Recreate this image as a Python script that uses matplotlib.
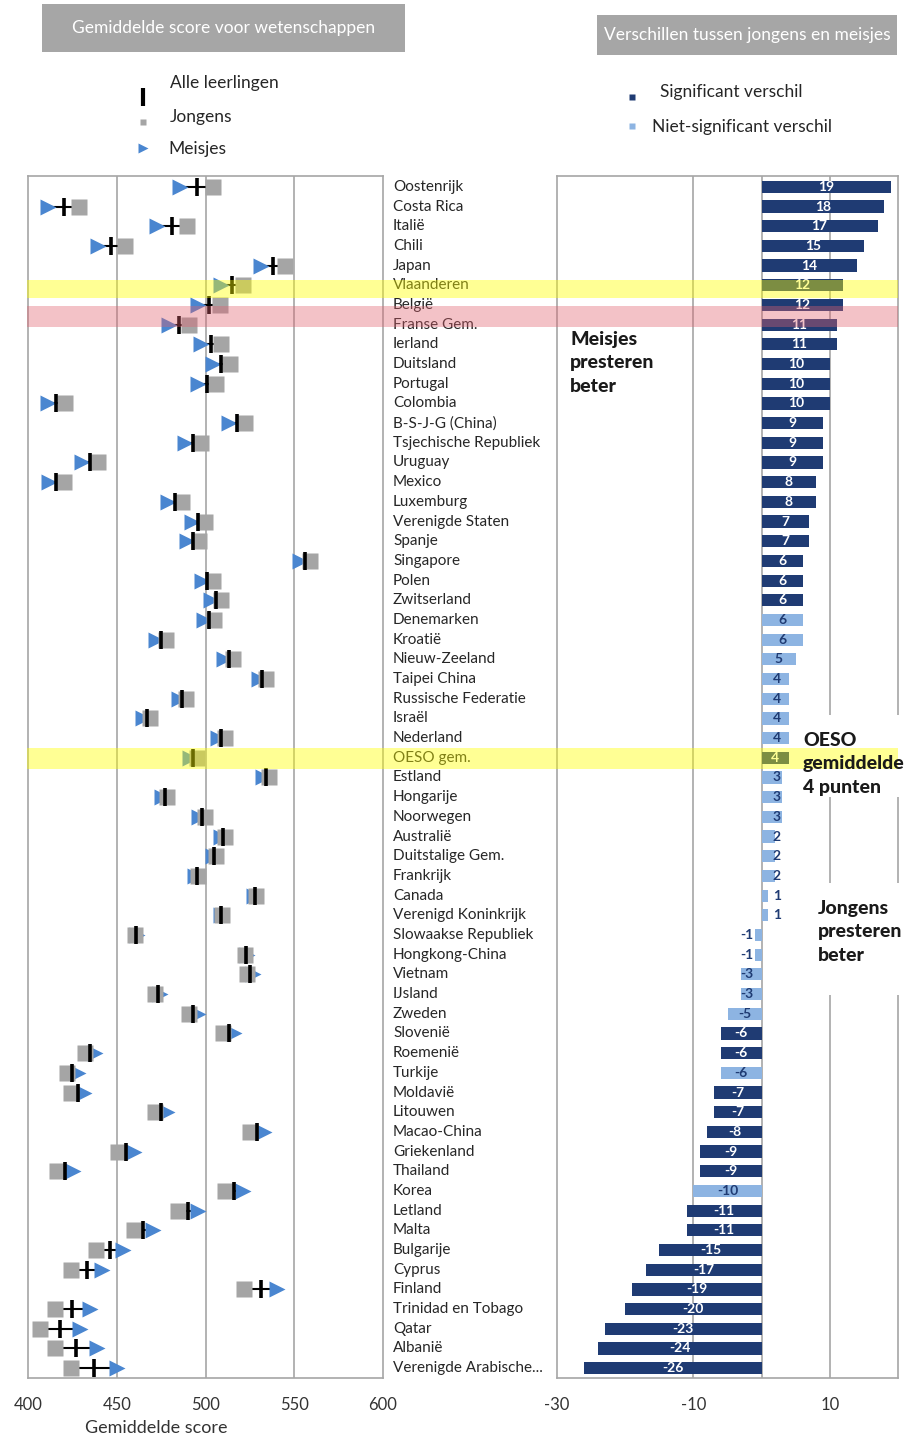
import matplotlib.pyplot as plt
import numpy as np
from matplotlib.patches import Rectangle
from matplotlib.lines import Line2D
from matplotlib.transforms import blended_transform_factory

plt.rcParams['font.family'] = ['Lato', 'DejaVu Sans']
plt.rcParams['axes.unicode_minus'] = False

countries = ['Oostenrijk', 'Costa Rica', 'Italië', 'Chili', 'Japan', 'Vlaanderen', 'België',
             'Franse Gem.', 'Ierland', 'Duitsland', 'Portugal', 'Colombia', 'B-S-J-G (China)',
             'Tsjechische Republiek', 'Uruguay', 'Mexico', 'Luxemburg', 'Verenigde Staten',
             'Spanje', 'Singapore', 'Polen', 'Zwitserland', 'Denemarken', 'Kroatië',
             'Nieuw-Zeeland', 'Taipei China', 'Russische Federatie', 'Israël', 'Nederland',
             'OESO gem.', 'Estland', 'Hongarije', 'Noorwegen', 'Australië', 'Duitstalige Gem.',
             'Frankrijk', 'Canada', 'Verenigd Koninkrijk', 'Slowaakse Republiek',
             'Hongkong-China', 'Vietnam', 'IJsland', 'Zweden', 'Slovenië', 'Roemenië',
             'Turkije', 'Moldavië', 'Litouwen', 'Macao-China', 'Griekenland', 'Thailand',
             'Korea', 'Letland', 'Malta', 'Bulgarije', 'Cyprus', 'Finland',
             'Trinidad en Tobago', 'Qatar', 'Albanië', 'Verenigde Arabische...']

# gemiddelde score alle leerlingen
mean_all = [495, 420, 481, 447, 538, 515, 502, 485, 503, 509, 501, 416, 518, 493, 435, 416,
            483, 496, 493, 556, 501, 506, 502, 475, 513, 532, 487, 467, 509, 493, 534, 477,
            498, 510, 505, 495, 528, 509, 461, 523, 525, 473, 493, 513, 435, 425, 428, 475,
            529, 455, 421, 516, 490, 465, 446, 433, 531, 425, 418, 427, 437]

# verschil jongens - meisjes
diff = [19, 18, 17, 15, 14, 12, 12, 11, 11, 10, 10, 10, 9, 9, 9, 8, 8, 7, 7, 6, 6, 6, 6, 6,
        5, 4, 4, 4, 4, 4, 3, 3, 3, 2, 2, 2, 1, 1, -1, -1, -3, -3, -5, -6, -6, -6, -7, -7,
        -8, -9, -9, -10, -11, -11, -15, -17, -19, -20, -23, -24, -26]

# 1 = significant verschil
significant = [1] * 22 + [0] * 7 + [1] + [0] * 13 + [1, 1, 0, 1, 1, 1, 1, 1, 0] + [1] * 9

mean_all = np.array(mean_all, dtype=float)
diff = np.array(diff, dtype=float)
boys = mean_all + diff / 2
girls = mean_all - diff / 2
rows = np.arange(len(countries))

W, H = 918, 1440


def fx(x):
    return x / W


def fy(y):
    return 1 - y / H


grey_line = '#A6A6A6'
dark = '#1F3B73'
light = '#8DB4E2'
blue = '#4A86D0'
sq_grey = '#A5A5A5'
txt = '#262626'

fig = plt.figure(figsize=(9.18, 14.4), dpi=100)
ax1 = fig.add_axes([fx(28), fy(1378), fx(383) - fx(28), fy(176) - fy(1378)])
ax2 = fig.add_axes([fx(557), fy(1378), fx(898) - fx(557), fy(176) - fy(1378)])

# ---- linker paneel: gemiddelde scores
ax1.hlines(rows, girls, boys, color='black', lw=1.5, zorder=2)
ax1.plot(girls, rows, '>', color=blue, ms=11.5, mec='none', zorder=3, ls='none')
ax1.plot(boys, rows, 's', color=sq_grey, ms=12, mec='none', zorder=4, ls='none')
ax1.plot(mean_all, rows, '|', color='black', ms=13, mew=2.6, zorder=5, ls='none')

ax1.set_xlim(400, 600)
ax1.set_ylim(60.5, -0.55)
ax1.set_xticks([400, 450, 500, 550, 600])
ax1.set_yticks([])
for v in [450, 500, 550]:
    ax1.axvline(v, color=grey_line, lw=1.2, zorder=1)
ax1.tick_params(axis='x', length=0, labelsize=12, labelcolor='#333333', pad=14)
for s in ax1.spines.values():
    s.set_color(grey_line)
    s.set_linewidth(1.2)
ax1.set_xlabel('Gemiddelde score', fontsize=13, color='#333333')
ax1.xaxis.set_label_coords(0.36, -0.035)

# landnamen
name_tr = blended_transform_factory(fig.transFigure, ax1.transData)
for i, name in enumerate(countries):
    ax1.text(fx(393), i, name, transform=name_tr, fontsize=11, color=txt,
             va='center', ha='left', clip_on=False)

# ---- rechter paneel: verschillen
colors = [dark if s else light for s in significant]
ax2.barh(rows, diff, height=0.62, color=colors, zorder=3)
ax2.set_xlim(-30, 20)
ax2.set_ylim(60.5, -0.55)
ax2.set_xticks([-30, -10, 10])
ax2.set_yticks([])
for v in [-10, 0, 10]:
    ax2.axvline(v, color=grey_line, lw=1.2, zorder=1)
ax2.tick_params(axis='x', length=0, labelsize=12, labelcolor='#333333', pad=14)
for s in ax2.spines.values():
    s.set_color(grey_line)
    s.set_linewidth(1.2)

for i, (d, s) in enumerate(zip(diff, significant)):
    if s:
        ax2.text(d / 2, i, f'{d:.0f}', color='white', fontsize=10, fontweight='bold',
                 ha='center', va='center', zorder=4)
    else:
        xpos = np.sign(d) * max(abs(d) / 2, 2.2)
        ax2.text(xpos, i, f'{d:.0f}', color=dark, fontsize=10, fontweight='bold',
                 ha='center', va='center', zorder=4)

# witte vlakken achter de tekstvakken
for (x0, y0, x1, y1) in [(795, 715, 915, 797), (810, 883, 915, 995)]:
    fig.add_artist(Rectangle((fx(x0), fy(y1)), fx(x1) - fx(x0), fy(y0) - fy(y1),
                             transform=fig.transFigure, facecolor='white',
                             edgecolor='none', zorder=3))

# markeringen (Vlaanderen, Franse Gem., OESO)
band_tr = blended_transform_factory(fig.transFigure, ax1.transData)
for (y0, y1, c, a) in [(4.72, 5.63, '#FFFF00', 0.42), (6.04, 7.1, '#E0606E', 0.38),
                       (28.5, 29.55, '#FFFF00', 0.42)]:
    fig.add_artist(Rectangle((fx(27), y0), fx(898) - fx(27), y1 - y0, transform=band_tr,
                             facecolor=c, alpha=a, edgecolor='none', zorder=5))

# annotaties
ann = dict(fontsize=14, fontweight='black', color='#1A1A1A', ha='left', va='top',
           linespacing=1.45, zorder=6)
fig.text(fx(570), fy(331), 'Meisjes\npresteren\nbeter', **ann)
fig.text(fx(803), fy(732), 'OESO\ngemiddelde\n4 punten', **ann)
fig.text(fx(818), fy(900), 'Jongens\npresteren\nbeter', **ann)

# titelvakken
for (x0, y0, x1, y1, label) in [(42, 4, 405, 52, 'Gemiddelde score voor wetenschappen'),
                                (597, 15, 897, 55, 'Verschillen tussen jongens en meisjes')]:
    fig.add_artist(Rectangle((fx(x0), fy(y1)), fx(x1) - fx(x0), fy(y0) - fy(y1),
                             transform=fig.transFigure, facecolor='#A6A6A6',
                             edgecolor='none', zorder=3))
    fig.text(fx((x0 + x1) / 2), fy((y0 + y1) / 2), label, color='white', fontsize=12.5,
             ha='center', va='center', zorder=4)

# legenda links
fig.add_artist(Line2D([fx(143)], [fy(97)], marker='|', color='black', ms=13, mew=3,
                      transform=fig.transFigure))
fig.add_artist(Line2D([fx(143)], [fy(122)], marker='s', color=sq_grey, ms=5, mec='none',
                      transform=fig.transFigure))
fig.add_artist(Line2D([fx(143)], [fy(148)], marker='>', color=blue, ms=7, mec='none',
                      transform=fig.transFigure))
fig.text(fx(170), fy(83), 'Alle leerlingen', fontsize=12.5, color=txt, va='center')
fig.text(fx(170), fy(117), 'Jongens', fontsize=12.5, color=txt, va='center')
fig.text(fx(168), fy(149), 'Meisjes', fontsize=12.5, color=txt, va='center')

# legenda rechts
fig.add_artist(Line2D([fx(632)], [fy(97)], marker='s', color=dark, ms=5, mec='none',
                      transform=fig.transFigure))
fig.add_artist(Line2D([fx(632)], [fy(126)], marker='s', color=light, ms=5, mec='none',
                      transform=fig.transFigure))
fig.text(fx(660), fy(92), 'Significant verschil', fontsize=12.5, color=txt, va='center')
fig.text(fx(652), fy(127), 'Niet-significant verschil', fontsize=12.5, color=txt,
         va='center')

fig.savefig('out.png', dpi=100)
